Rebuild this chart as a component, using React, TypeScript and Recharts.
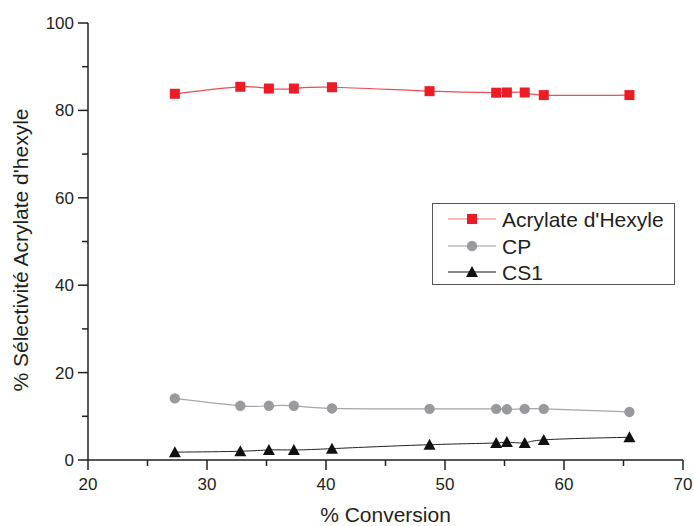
import React from 'react';
import { LineChart, Line, XAxis, YAxis } from 'recharts';

const conversion = [27.3, 32.8, 35.2, 37.3, 40.5, 48.7, 54.3, 55.2, 56.7, 58.3, 65.5];
const acrylate = [83.8, 85.4, 85.0, 85.0, 85.3, 84.4, 84.05, 84.1, 84.1, 83.5, 83.5];
const cp = [14.1, 12.4, 12.4, 12.4, 11.8, 11.7, 11.7, 11.6, 11.7, 11.7, 11.0];
const cs1 = [1.8, 2.0, 2.3, 2.3, 2.6, 3.5, 3.9, 4.1, 3.9, 4.6, 5.2];

const xTicks = [20, 25, 30, 35, 40, 45, 50, 55, 60, 65, 70];
const yTicks = [0, 10, 20, 30, 40, 50, 60, 70, 80, 90, 100];

const seriesNames = ["Acrylate d'Hexyle", 'CP', 'CS1'];

const data = conversion.map((x, i) => ({ x, a: acrylate[i], cp: cp[i], cs1: cs1[i] }));

const FONT = '"Liberation Sans", Arial, sans-serif';
const AX = '#231f20';

const Square = (props: any) => {
  const { cx, cy } = props;
  if (cx == null || cy == null) return null;
  return <rect x={cx - 5} y={cy - 5} width={10} height={10} fill="#ed1c24" />;
};
const Circ = (props: any) => {
  const { cx, cy } = props;
  if (cx == null || cy == null) return null;
  return <circle cx={cx} cy={cy} r={5.2} fill="#999a9e" />;
};
const Tri = (props: any) => {
  const { cx, cy } = props;
  if (cx == null || cy == null) return null;
  return <polygon points={`${cx - 6},${cy + 5} ${cx + 6},${cy + 5} ${cx},${cy - 6}`} fill="#111" />;
};

const YTick = (props: any) => {
  const { x, y, payload } = props;
  const major = payload.value % 20 === 0;
  return (
    <g>
      <line x1={x - (major ? 10 : 6)} x2={x} y1={y} y2={y} stroke={AX} strokeWidth={1.5} />
      {major && (
        <text x={x - 14} y={y} dy={6} textAnchor="end" fontSize={17} fill={AX} fontFamily={FONT}>
          {payload.value}
        </text>
      )}
    </g>
  );
};

const XTick = (props: any) => {
  const { x, y, payload } = props;
  const major = payload.value % 10 === 0;
  return (
    <g>
      <line x1={x} x2={x} y1={y} y2={y + (major ? 10 : 6)} stroke={AX} strokeWidth={1.5} />
      {major && (
        <text x={x} y={y} dy={30} textAnchor="middle" fontSize={17} fill={AX} fontFamily={FONT}>
          {payload.value}
        </text>
      )}
    </g>
  );
};

const LegendBox = () => {
  const rows = [
    { name: seriesNames[0], color: '#f07a7e', marker: 'sq' },
    { name: seriesNames[1], color: '#999a9e', marker: 'ci' },
    { name: seriesNames[2], color: '#111', marker: 'tr' },
  ];
  const ys = [16, 43, 69];
  return (
    <svg width={244} height={83} style={{ display: 'block', position: 'absolute', left: 432, top: 203 }}>
      <rect x={0.5} y={0.5} width={242} height={81} fill="#fff" stroke="#555" strokeWidth={1} />
      {rows.map((r, i) => {
        const cy = ys[i];
        const cx = 40;
        return (
          <g key={r.name}>
            <line x1={16} x2={64} y1={cy} y2={cy} stroke={r.color} strokeWidth={1.2} />
            {r.marker === 'sq' && <rect x={cx - 5} y={cy - 5} width={10} height={10} fill="#ed1c24" />}
            {r.marker === 'ci' && <circle cx={cx} cy={cy} r={5.2} fill="#999a9e" />}
            {r.marker === 'tr' && (
              <polygon points={`${cx - 6},${cy + 5} ${cx + 6},${cy + 5} ${cx},${cy - 6}`} fill="#111" />
            )}
            <text x={70} y={cy} dy={7.5} fontSize={21} fill={AX} fontFamily={FONT}>
              {r.name}
            </text>
          </g>
        );
      })}
    </svg>
  );
};

export default function App() {
  return (
    <div
      style={{
        position: 'absolute',
        left: 0,
        top: 0,
        width: 694,
        height: 526,
        overflow: 'hidden',
        background: '#fff',
        fontFamily: FONT,
      }}
    >
      <LineChart
        width={694}
        height={526}
        data={data}
        margin={{ top: 23, right: 11, bottom: 0, left: 0 }}
        style={{ overflow: 'visible' }}
      >
        <XAxis
          dataKey="x"
          type="number"
          domain={[20, 70]}
          ticks={xTicks}
          interval={0}
          height={66}
          tickSize={0}
          tickMargin={0}
          tickLine={false}
          axisLine={{ stroke: AX, strokeWidth: 1.5 }}
          tick={<XTick />}
          allowDataOverflow
          label={(p: any) => (
            <text x={385.5} y={522} textAnchor="middle" fontSize={21} fill={AX} fontFamily={FONT}>
              % Conversion
            </text>
          )}
        />
        <YAxis
          type="number"
          domain={[0, 100]}
          ticks={yTicks}
          interval={0}
          width={88}
          tickSize={0}
          tickMargin={0}
          tickLine={false}
          axisLine={{ stroke: AX, strokeWidth: 1.5 }}
          tick={<YTick />}
          label={(p: any) => (
            <text
              x={28}
              y={250}
              transform="rotate(-90 28 250)"
              textAnchor="middle"
              fontSize={21}
              fill={AX}
              fontFamily={FONT}
            >
              % Sélectivité Acrylate d'hexyle
            </text>
          )}
        />
        <Line
          type="natural"
          dataKey="a"
          name={seriesNames[0]}
          stroke="#ef4b52"
          strokeWidth={1.2}
          dot={<Square />}
          activeDot={false}
          isAnimationActive={false}
        />
        <Line
          type="natural"
          dataKey="cp"
          name={seriesNames[1]}
          stroke="#a5a6a9"
          strokeWidth={1.2}
          dot={<Circ />}
          activeDot={false}
          isAnimationActive={false}
        />
        <Line
          type="natural"
          dataKey="cs1"
          name={seriesNames[2]}
          stroke="#222"
          strokeWidth={1}
          dot={<Tri />}
          activeDot={false}
          isAnimationActive={false}
        />
      </LineChart>
      <LegendBox />
    </div>
  );
}
